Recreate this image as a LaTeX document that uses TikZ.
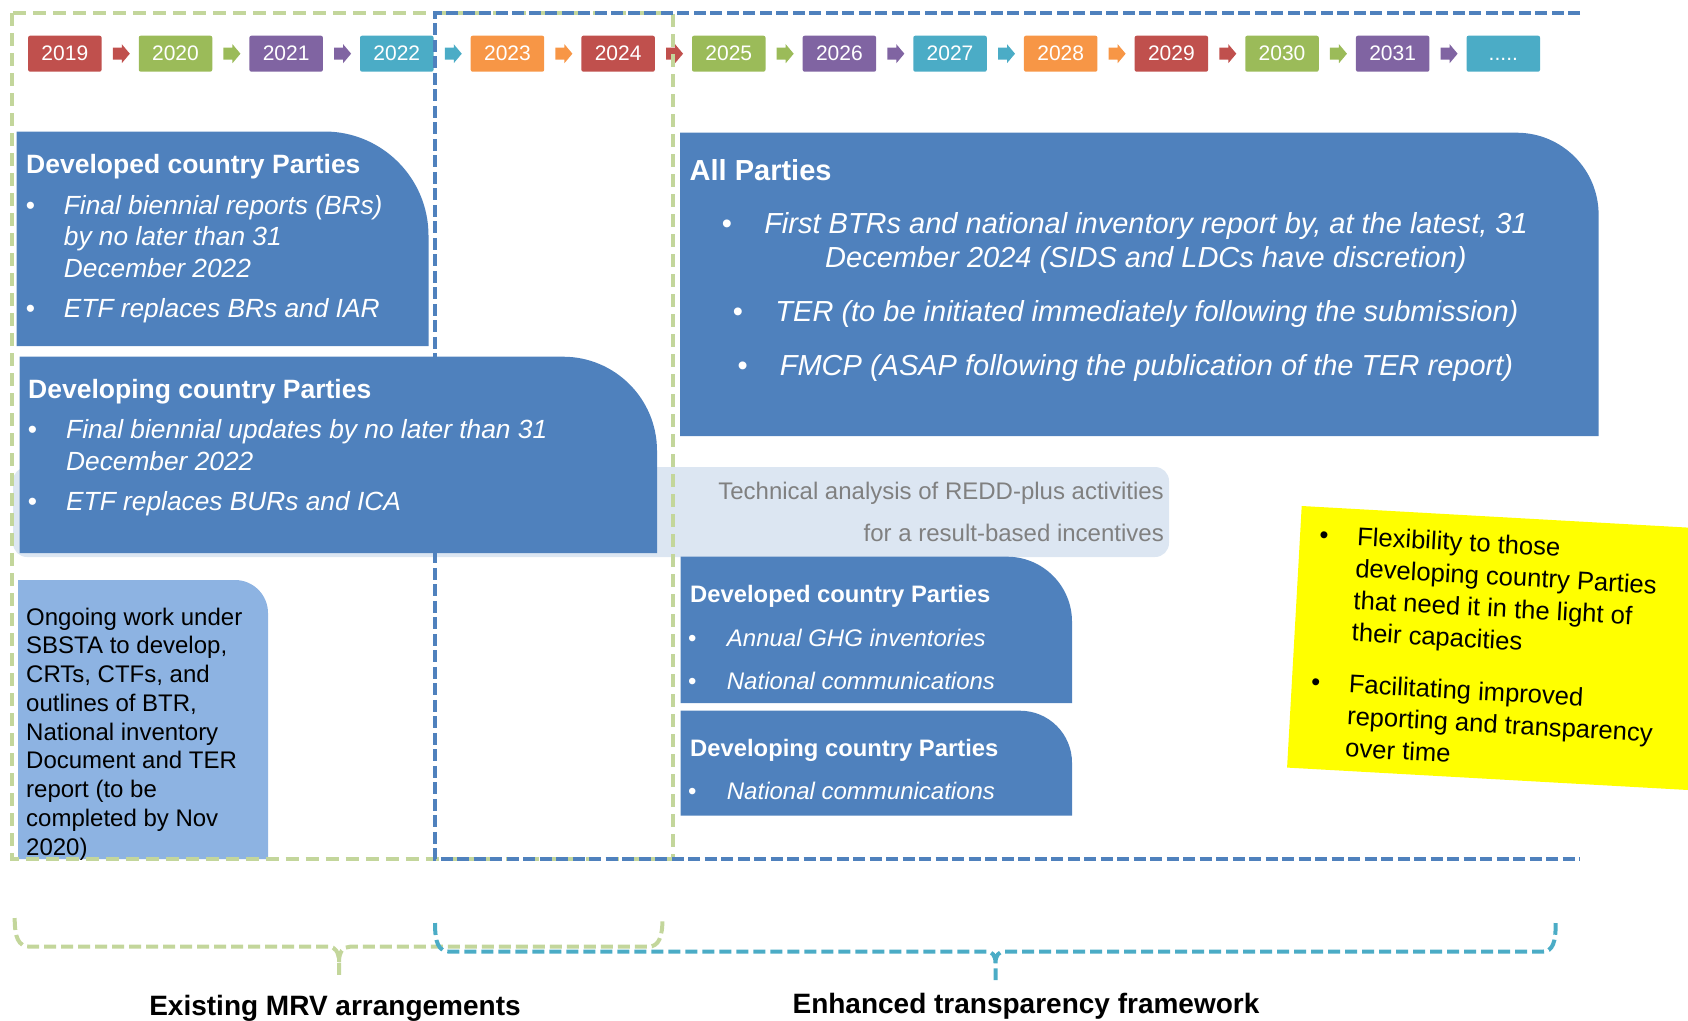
\documentclass[tikz,border=0pt]{standalone}
\usepackage{fontspec}
\setmainfont{Liberation Sans}
\usetikzlibrary{positioning}

\definecolor{yrred}{HTML}{C0504D}
\definecolor{yrgreen}{HTML}{9BBB59}
\definecolor{yrpurple}{HTML}{8064A2}
\definecolor{yrcyan}{HTML}{4BACC6}
\definecolor{yrorange}{HTML}{F79646}
\definecolor{partyblue}{HTML}{4F81BD}
\definecolor{ongoingblue}{HTML}{8DB3E2}
\definecolor{panelgrey}{HTML}{DCE6F2}
\definecolor{panelink}{HTML}{808080}
\definecolor{framegreen}{HTML}{C3D69B}
\definecolor{flexyellow}{HTML}{FFFF00}

% box with one rounded corner (top right)
\newcommand{\cornerbox}[6]{%
  \fill[#1] (#2,#5) -- (#2,#3) -- ({#4-#6},#3)
    .. controls ({#4-0.4477*#6},#3) and (#4,{#3+0.4477*#6}) .. (#4,{#3+#6})
    -- (#4,#5) -- cycle;}

\tikzset{
  yearbox/.style={fill=#1, text=white, minimum width=73.5pt, minimum height=36pt,
    inner sep=0pt, rounded corners=2pt, font=\fontsize{21}{21}\selectfont},
  boxhead/.style={anchor=base west, inner sep=0pt, text=white,
    font=\bfseries\fontsize{#1}{#1}\selectfont},
  boxitem/.style={anchor=base west, inner sep=0pt, text=white,
    font=\itshape\fontsize{#1}{#1}\selectfont},
  boxdot/.style={anchor=base, inner sep=0pt, text=white,
    font=\fontsize{#1}{#1}\selectfont},
  paneltext/.style={anchor=base east, inner sep=0pt, text=panelink,
    font=\fontsize{24}{24}\selectfont},
  notetext/.style={anchor=base west, inner sep=0pt, text=black,
    font=\fontsize{24}{24}\selectfont},
  flexline/.style={anchor=base west, inner sep=0pt, text=black, transform shape,
    font=\fontsize{25.6}{25.6}\selectfont},
  dashframe/.style={line width=4pt},
  bracket/.style={line width=4pt, dash pattern=on 12pt off 5pt},
  footlabel/.style={anchor=base, inner sep=0pt, text=black,
    font=\bfseries\fontsize{28}{28}\selectfont}
}

\begin{document}
\begin{tikzpicture}[x=1pt, y=-1pt]
\useasboundingbox (0,0) rectangle (1688,1020);
\clip (0,0) rectangle (1688,1020);

% Timeline of years
\foreach \yr/\col [count=\i from 0] in {2019/yrred,2020/yrgreen,2021/yrpurple,2022/yrcyan,2023/yrorange,2024/yrred,2025/yrgreen,2026/yrpurple,2027/yrcyan,2028/yrorange,2029/yrred,2030/yrgreen,2031/yrpurple} {
  \node[yearbox=\col] (yr\i) at ({64.85+110.65*\i},53.7) {\yr};
  \fill[\col, shift={(yr\i.east)}] (11,-6) -- (20,-6) -- (20,-9.5) -- (28,0)
    -- (20,9.5) -- (20,6) -- (11,6) -- cycle;
}
\node[yearbox=yrcyan] (yr13) at ({64.85+110.65*13},53.7) {\vphantom{0}.....};

% REDD-plus panel (behind the developing box)
\fill[panelgrey, rounded corners=14pt] (13,467) rectangle (1169,557);
\node[paneltext] (redd1) at (1164,499) {Technical analysis of REDD-plus activities};
\node[paneltext] (redd2) at (1164,541.7) {for a result-based incentives};

% Ongoing work under SBSTA
\cornerbox{ongoingblue}{18}{580}{268}{859}{33}
\foreach \t [count=\i from 0] in {Ongoing work under, {SBSTA to develop,}, {CRTs, CTFs, and}, {outlines of BTR,}, National inventory, Document and TER, report (to be, completed by Nov, 2020)}
  \node[notetext] (sbsta\i) at (26,{625+28.75*\i}) {\t};

% Dashed frames
\draw[framegreen, dashframe, dash pattern=on 13pt off 7pt] (11.5,13.3) rectangle (672.7,859.3);
\draw[partyblue, dashframe, dash pattern=on 12pt off 4.5pt] (1580,13.3) -- (435,13.3) -- (435,859.3) -- (1580,859.3);

% Existing arrangements: developed country Parties
\cornerbox{partyblue}{16.5}{131.5}{428.5}{346}{104}
\node[boxhead=26.5] (dvd-head) at (26,173) {Developed country Parties};
\node[boxdot=26.3] (dvd-b1) at (30.4,214) {\textbullet};
\node[boxitem=26.3] (dvd-l1) at (63.7,214) {Final biennial reports (BRs)};
\node[boxitem=26.3] (dvd-l2) at (63.7,245.5) {by no later than 31};
\node[boxitem=26.3] (dvd-l3) at (63.7,277) {December 2022};
\node[boxdot=26.3] (dvd-b2) at (30.4,317) {\textbullet};
\node[boxitem=26.3] (dvd-l4) at (63.7,317) {ETF replaces BRs and IAR};

% Existing arrangements: developing country Parties
\cornerbox{partyblue}{19.5}{356.7}{657}{553}{94}
\node[boxhead=26.5] (dvg-head) at (28,398) {Developing country Parties};
\node[boxdot=26.3] (dvg-b1) at (32.5,438) {\textbullet};
\node[boxitem=26.3] (dvg-l1) at (66,438) {Final biennial updates by no later than 31};
\node[boxitem=26.3] (dvg-l2) at (66,470) {December 2022};
\node[boxdot=26.3] (dvg-b2) at (32.5,510) {\textbullet};
\node[boxitem=26.3] (dvg-l3) at (66,510) {ETF replaces BURs and ICA};

% ETF: all Parties
\cornerbox{partyblue}{680}{132.7}{1598.6}{436}{82}
\node[boxhead=29] (all-head) at (689.5,180.7) {All Parties};
\node[boxdot=29] (all-b1) at (727,233) {\textbullet};
\node[boxitem=29, anchor=base] (all-l1) at (1146,233) {First BTRs and national inventory report by, at the latest, 31};
\node[boxitem=29, anchor=base] (all-l2) at (1146,267.7) {December 2024 (SIDS and LDCs have discretion)};
\node[boxdot=29] (all-b2) at (738,321.7) {\textbullet};
\node[boxitem=29, anchor=base] (all-l3) at (1147,321.7) {TER (to be initiated immediately following the submission)};
\node[boxdot=29] (all-b3) at (742.7,375) {\textbullet};
\node[boxitem=29, anchor=base] (all-l4) at (1146.5,375) {FMCP (ASAP following the publication of the TER report)};

% ETF: developed and developing country Parties
\cornerbox{partyblue}{680.7}{556.7}{1072}{703}{65}
\node[boxhead=23.8] (etfd-head) at (690,602.7) {Developed country Parties};
\node[boxdot=24] (etfd-b1) at (692.3,646) {\textbullet};
\node[boxitem=24] (etfd-l1) at (726.7,646) {Annual GHG inventories};
\node[boxdot=24] (etfd-b2) at (692.3,689) {\textbullet};
\node[boxitem=24] (etfd-l2) at (726.7,689) {National communications};

\cornerbox{partyblue}{680.7}{710.7}{1072}{815.7}{52}
\node[boxhead=23.8] (etfg-head) at (690,756) {Developing country Parties};
\node[boxdot=24] (etfg-b1) at (692.3,799) {\textbullet};
\node[boxitem=24] (etfg-l1) at (726.7,799) {National communications};

% Flexibility note (tilted)
\begin{scope}[shift={(1301.7,506)}, rotate=-3.2]
  \fill[flexyellow] (0,0) rectangle (440,262);
  \node[flexline, anchor=base] (flex-b1) at (24,36) {\textbullet};
  \node[flexline] (flex-l1) at (57,36) {Flexibility to those};
  \node[flexline] (flex-l2) at (57,68) {developing country Parties};
  \node[flexline] (flex-l3) at (57,100) {that need it in the light of};
  \node[flexline] (flex-l4) at (57,132) {their capacities};
  \node[flexline, anchor=base] (flex-b2) at (24,184) {\textbullet};
  \node[flexline] (flex-l5) at (57,184) {Facilitating improved};
  \node[flexline] (flex-l6) at (57,216) {reporting and transparency};
  \node[flexline] (flex-l7) at (57,248) {over time};
\end{scope}

% Braces and their labels
\draw[framegreen, bracket] (14.7,918) .. controls (14.7,937) and (18,946.7) .. (30,946.7)
  -- (329,946.7) .. controls (335,946.7) and (339,952) .. (339,962) -- (339,977)
  (339,962) .. controls (339,952) and (343,946.7) .. (350,946.7)
  -- (648,946.7) .. controls (659,946.7) and (662.5,937) .. (662.5,918);
\draw[yrcyan, bracket] (435,923) .. controls (435,942) and (438,951.7) .. (450,951.7)
  -- (987,951.7) .. controls (992,951.7) and (995.5,955) .. (995.5,963) -- (995.5,980)
  (995.5,963) .. controls (995.5,955) and (999,951.7) .. (1004,951.7)
  -- (1542,951.7) .. controls (1553,951.7) and (1555.7,942) .. (1555.7,923);
\node[footlabel] (mrv) at (335,1015) {Existing MRV arrangements};
\node[footlabel] (etf) at (1026,1013) {Enhanced transparency framework};

\end{tikzpicture}
\end{document}
